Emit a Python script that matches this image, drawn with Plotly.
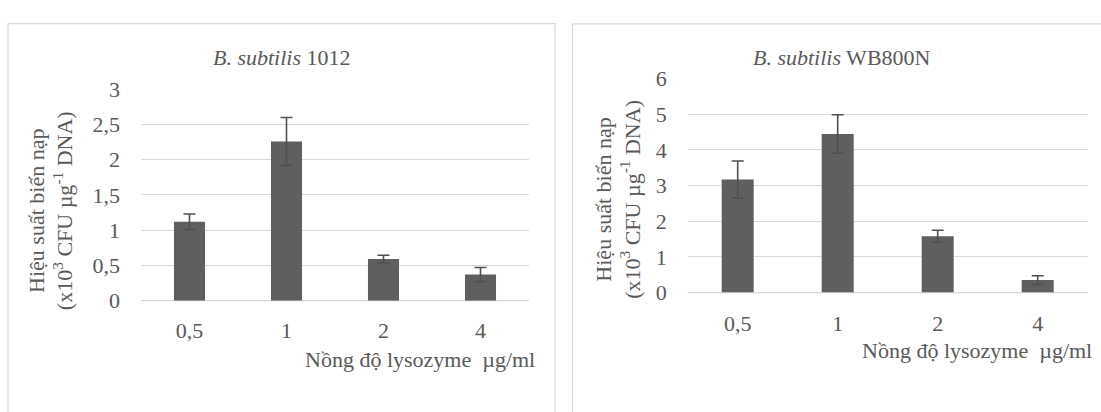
import plotly.graph_objects as go

# ---- data ----
concentrations = ["0,5", "1", "2", "4"]
eff_1012 = [1.12, 2.26, 0.59, 0.37]
err_1012 = [0.11, 0.34, 0.055, 0.10]
eff_wb800n = [3.17, 4.45, 1.58, 0.35]
err_wb800n = [0.52, 0.54, 0.17, 0.12]

title_1012 = "<i>B. subtilis</i> 1012"
title_wb = "<i>B. subtilis</i> WB800N"
y_title = "Hiệu suất biến nạp<br>(x10<sup>3</sup> CFU µg<sup>-1</sup> DNA)"
x_title = "Nồng độ lysozyme  µg/ml"

W, H = 1101, 412
FONT = "Liberation Serif"
TXT = "#595959"
GRID = "#d9d9d9"
BAR = "#5f5f5f"
FS = 22


def px(x):
    return x / W


def py(y):
    return (H - y) / H


fig = go.Figure()
fig.add_trace(go.Bar(
    x=concentrations, y=eff_1012, xaxis="x", yaxis="y",
    marker=dict(color=BAR, line=dict(width=0)),
    error_y=dict(type="data", array=err_1012, color="#505050", thickness=1.6, width=6),
    showlegend=False))
fig.add_trace(go.Bar(
    x=concentrations, y=eff_wb800n, xaxis="x2", yaxis="y2",
    marker=dict(color=BAR, line=dict(width=0)),
    error_y=dict(type="data", array=err_wb800n, color="#505050", thickness=1.6, width=6),
    showlegend=False))

axis_common_x = dict(showgrid=False, showline=False, zeroline=False, ticks="",
                     tickfont=dict(family=FONT, size=FS, color=TXT), fixedrange=True)
axis_common_y = dict(showgrid=True, gridcolor=GRID, gridwidth=1.4, zeroline=False,
                     showline=False, ticks="", ticklabelstandoff=20,
                     tickfont=dict(family=FONT, size=FS, color=TXT), fixedrange=True)

fig.update_layout(
    width=W, height=H,
    margin=dict(l=0, r=0, t=0, b=0),
    paper_bgcolor="white", plot_bgcolor="white",
    bargap=0.68,
    font=dict(family=FONT, size=FS, color=TXT),
    xaxis=dict(domain=[px(141), px(529)], anchor="y", ticklabelstandoff=14, **axis_common_x),
    yaxis=dict(domain=[py(307.3), py(82.3)], anchor="x", range=[0, 3], dtick=0.5,
               tickformat=".1~f", **axis_common_y),
    xaxis2=dict(domain=[px(687.7), px(1087.7)], anchor="y2", ticklabelstandoff=15, **axis_common_x),
    yaxis2=dict(domain=[py(298.7), py(71)], anchor="x2", range=[0, 6], dtick=1,
                **axis_common_y),
    separators=", ",
)

# baseline axis lines (category axes)
shapes = [
    dict(type="line", xref="paper", yref="paper", x0=px(141), x1=px(529),
         y0=py(307.3), y1=py(307.3), line=dict(color=GRID, width=1.4), layer="below"),
    dict(type="line", xref="paper", yref="paper", x0=px(687.7), x1=px(1087.7),
         y0=py(298.7), y1=py(298.7), line=dict(color=GRID, width=1.4), layer="below"),
    # chart panel borders
    dict(type="rect", xref="paper", yref="paper", x0=px(8), x1=px(555),
         y0=-0.1, y1=py(12.3), line=dict(color=GRID, width=1.2), layer="below"),
    dict(type="rect", xref="paper", yref="paper", x0=px(572.5), x1=1.1,
         y0=-0.1, y1=py(12.7), line=dict(color=GRID, width=1.2), layer="below"),
]
fig.update_layout(shapes=shapes)

ann = []
ann.append(dict(text=title_1012, x=px(282), y=py(48.5), xref="paper", yref="paper",
                showarrow=False, xanchor="center", yanchor="middle",
                font=dict(family=FONT, size=FS, color=TXT)))
ann.append(dict(text=title_wb, x=px(842), y=py(48.5), xref="paper", yref="paper",
                showarrow=False, xanchor="center", yanchor="middle",
                font=dict(family=FONT, size=FS, color=TXT)))
ann.append(dict(text=y_title, x=px(51), y=py(212), xref="paper", yref="paper",
                showarrow=False, xanchor="center", yanchor="middle", textangle=-90,
                font=dict(family=FONT, size=FS, color=TXT)))
ann.append(dict(text=y_title, x=px(618), y=py(200), xref="paper", yref="paper",
                showarrow=False, xanchor="center", yanchor="middle", textangle=-90,
                font=dict(family=FONT, size=FS, color=TXT)))
ann.append(dict(text=x_title, x=px(303), y=py(370), xref="paper", yref="paper",
                showarrow=False, xanchor="left", yanchor="middle",
                font=dict(family=FONT, size=FS, color=TXT)))
ann.append(dict(text=x_title, x=px(860), y=py(360), xref="paper", yref="paper",
                showarrow=False, xanchor="left", yanchor="middle",
                font=dict(family=FONT, size=FS, color=TXT)))
fig.update_layout(annotations=ann)

fig.write_html("out.html")
